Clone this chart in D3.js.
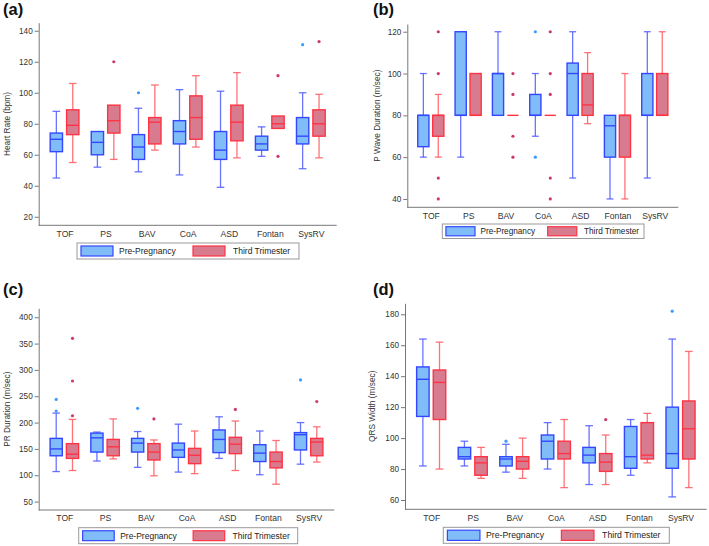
<!DOCTYPE html>
<html><head><meta charset="utf-8">
<script src="https://cdn.jsdelivr.net/npm/d3@7"></script>
<style>
html,body{margin:0;padding:0;background:#fff;}
svg{display:block;font-family:"Liberation Sans",Arial,sans-serif;}
</style></head>
<body><svg id="chart" width="709" height="546"></svg>
<script>
// ---------- DATA ----------
const categories = ["TOF","PS","BAV","CoA","ASD","Fontan","SysRV"];
const seriesNames = ["Pre-Pregnancy","Third Trimester"];
// each entry: [whiskerLow, Q1, median, Q3, whiskerHigh]
const heartRatePre   = [[45,62,70,74,88],[52,60,68,75,75],[49,57,65,73,90],[47,67,75,82,102],[39,57,63,75,101],[59,63,67,72,78],[51,67,72,84,100]];
const heartRateThird = [[55,73,79,89,106],[57,74,82,92,92],[63,67,81,84,105],[65,70,84,98,111],[58,69,81,92,113],[77,77,80,85,85],[58,72,80,89,99]];
const heartRateOutPre   = [["BAV",100],["SysRV",131]];
const heartRateOutThird = [["PS",120],["Fontan",111],["Fontan",59],["SysRV",133]];
const heartRateTicks = [20,40,60,80,100,120,140];

const pWavePre   = [[60,65,80,80,100],[60,80,80,120,120],[80,80,100,100,120],[70,80,80,90,100],[50,80,100,105,120],[40,60,75,80,80],[50,80,80,100,120]];
const pWaveThird = [[60,70,80,80,90],[80,80,80,100,100],[80,80,80,80,80],[80,80,80,80,80],[76,80,85,100,110],[40,60,80,80,100],[80,80,80,100,120]];
const pWaveOutPre   = [["CoA",120],["CoA",60]];
const pWaveOutThird = [["TOF",120],["TOF",100],["TOF",50],["TOF",40],["BAV",100],["BAV",90],["BAV",70],["BAV",60],["CoA",120],["CoA",100],["CoA",90],["CoA",50],["CoA",40]];
const pWaveTicks = [40,60,80,100,120];

const prPre   = [[107,137,150,170,218],[127,144,171,180,182],[115,144,161,170,183],[106,134,148,161,197],[132,143,168,186,211],[101,126,142,158,184],[121,148,177,181,200]];
const prThird = [[109,132,140,160,206],[131,137,154,168,207],[99,129,144,160,167],[103,122,138,151,184],[109,141,159,172,203],[83,114,126,144,166],[125,137,163,170,192]];
const prOutPre   = [["TOF",244],["TOF",222],["BAV",227],["SysRV",281]];
const prOutThird = [["TOF",360],["TOF",279],["TOF",213],["BAV",207],["ASD",225],["SysRV",240]];
const prTicks = [50,100,150,200,250,300,350,400];

const qrsPre   = [[82,114,138,146,164],[82,86.5,88,94,98],[78,82,86.5,88,96],[80,86.5,98,102,110],[70,84,89,94,108],[76,80.5,88,107.5,112],[62,80.5,90,120,164]];
const qrsThird = [[80,112,136,144,162],[74,76,84,88,94],[74,80,85,88,100],[68,86.5,90,98,112],[70,78.5,84.5,90,102],[84,86.5,89,110,116],[68,86.5,106,124,156]];
const qrsOutPre   = [["BAV",98],["SysRV",182]];
const qrsOutThird = [["ASD",112]];
const qrsTicks = [60,80,100,120,140,160,180];

// ---------- LAYOUT ----------
const panels = [
  {tag:"(a)", title:"Heart Rate (bpm)", pre:heartRatePre, third:heartRateThird, outPre:heartRateOutPre, outThird:heartRateOutThird, ticks:heartRateTicks,
   x0:38.7, x1:336.7, y0:22.7, y1:225.3, dom:[14.5,145.2], tagX:3, tagY:15, titleX:9.5, leg:{x:77,y:243,w:222,h:16,fs:8.5}},
  {tag:"(b)", title:"P Wave Duration (m/sec)", pre:pWavePre, third:pWaveThird, outPre:pWaveOutPre, outThird:pWaveOutThird, ticks:pWaveTicks,
   x0:407.3, x1:678.3, y0:24, y1:207.3, dom:[36,123.7], tagX:373, tagY:15, titleX:380, leg:{x:442.3,y:224,w:201.7,h:14.5,fs:8.2}},
  {tag:"(c)", title:"PR Duration (m/sec)", pre:prPre, third:prThird, outPre:prOutPre, outThird:prOutThird, ticks:prTicks,
   x0:38.7, x1:334.3, y0:308.3, y1:510, dom:[34,417], tagX:3, tagY:295, titleX:9.5, leg:{x:78.7,y:527.7,w:219,h:16,fs:8.5}},
  {tag:"(d)", title:"QRS Width (m/sec)", pre:qrsPre, third:qrsThird, outPre:qrsOutPre, outThird:qrsOutThird, ticks:qrsTicks,
   x0:405, x1:706.7, y0:303.3, y1:509.3, dom:[54,187.1], tagX:373, tagY:295, titleX:374.5, leg:{x:443.3,y:527.3,w:226,h:16,fs:8.7}}
];

const style = {
  pre:  {fill:"#80bdf8", stroke:"#3347ff", whisk:"#4f5cff", dot:"#3b9cff"},
  third:{fill:"#d97b8f", stroke:"#ff3344", whisk:"#ff5a60", dot:"#cc3a6a"}
};

const svg = d3.select("#chart");

panels.forEach(p => {
  const g = svg.append("g");
  const x = d3.scalePoint().domain(categories).range([p.x0, p.x1]).padding(0.63);
  const y = d3.scaleLinear().domain(p.dom).range([p.y1, p.y0]);
  const step = x.step();
  const bw = 0.3 * step, off = 0.2 * step, capW = 0.62 * bw;

  // axes
  const ya = g.append("g").attr("transform", `translate(${p.x0},0)`)
    .call(d3.axisLeft(y).tickValues(p.ticks).tickSize(4).tickPadding(2).tickSizeOuter(0));
  ya.select(".domain").attr("stroke", "#777");
  ya.selectAll(".tick line").attr("stroke", "#777");
  ya.selectAll(".tick text").attr("fill", "#333").attr("font-size", 8.2).attr("font-family", "Liberation Sans, Arial, sans-serif");

  const xa = g.append("g").attr("transform", `translate(0,${p.y1})`)
    .call(d3.axisBottom(x).tickSize(0).tickPadding(5.2).tickSizeOuter(0));
  xa.select(".domain").attr("stroke", "#777").attr("d", `M${p.x0},0H${p.x1}`);
  xa.selectAll(".tick text").attr("fill", "#333").attr("font-size", 8.6).attr("font-family", "Liberation Sans, Arial, sans-serif");

  // titles
  g.append("text").attr("x", p.tagX).attr("y", p.tagY).attr("font-size", 16.5).attr("font-weight", "bold").attr("fill", "#111").text(p.tag);
  g.append("text").attr("transform", `translate(${p.titleX},${(p.y0+p.y1)/2}) rotate(-90)`)
    .attr("text-anchor", "middle").attr("font-size", 8.3).attr("fill", "#333").text(p.title);

  // boxes
  const drawSeries = (data, outs, st, sign) => {
    data.forEach((d, i) => {
      const cx = x(categories[i]) + sign * off;
      const [lo, q1, med, q3, hi] = d;
      const wg = g.append("g").attr("stroke", st.whisk).attr("stroke-width", 1.3).attr("stroke-opacity", 0.85);
      if (hi > q3) {
        wg.append("line").attr("x1", cx).attr("x2", cx).attr("y1", y(q3)).attr("y2", y(hi));
        wg.append("line").attr("x1", cx - capW/2).attr("x2", cx + capW/2).attr("y1", y(hi)).attr("y2", y(hi));
      }
      if (lo < q1) {
        wg.append("line").attr("x1", cx).attr("x2", cx).attr("y1", y(q1)).attr("y2", y(lo));
        wg.append("line").attr("x1", cx - capW/2).attr("x2", cx + capW/2).attr("y1", y(lo)).attr("y2", y(lo));
      }
      g.append("rect").attr("x", cx - bw/2).attr("y", y(q3)).attr("width", bw).attr("height", Math.max(0, y(q1) - y(q3)))
        .attr("fill", st.fill).attr("stroke", st.stroke).attr("stroke-width", 1.4);
      g.append("line").attr("x1", cx - bw/2).attr("x2", cx + bw/2).attr("y1", y(med)).attr("y2", y(med))
        .attr("stroke", st.stroke).attr("stroke-width", 1.4);
    });
    outs.forEach(o => {
      g.append("circle").attr("cx", x(o[0]) + sign * off).attr("cy", y(o[1])).attr("r", 1.6).attr("fill", st.dot);
    });
  };
  drawSeries(p.pre, p.outPre, style.pre, -1);
  drawSeries(p.third, p.outThird, style.third, 1);

  // legend
  const L = p.leg, s = L.w / 222;
  const lg = g.append("g");
  lg.append("rect").attr("x", L.x).attr("y", L.y).attr("width", L.w).attr("height", L.h)
    .attr("fill", "#fff").attr("stroke", "#999").attr("stroke-width", 1);
  const items = [{st:style.pre, sx:4, tx:42, name:seriesNames[0]}, {st:style.third, sx:116, tx:156, name:seriesNames[1]}];
  items.forEach(it => {
    lg.append("rect").attr("x", L.x + it.sx*s).attr("y", L.y + L.h/2 - 5*s).attr("width", 32*s).attr("height", 10*s)
      .attr("fill", it.st.fill).attr("stroke", it.st.stroke).attr("stroke-width", 1.2);
    lg.append("text").attr("x", L.x + it.tx*s).attr("y", L.y + L.h/2 + 3).attr("font-size", L.fs).attr("fill", "#222").text(it.name);
  });
});
</script></body></html>
